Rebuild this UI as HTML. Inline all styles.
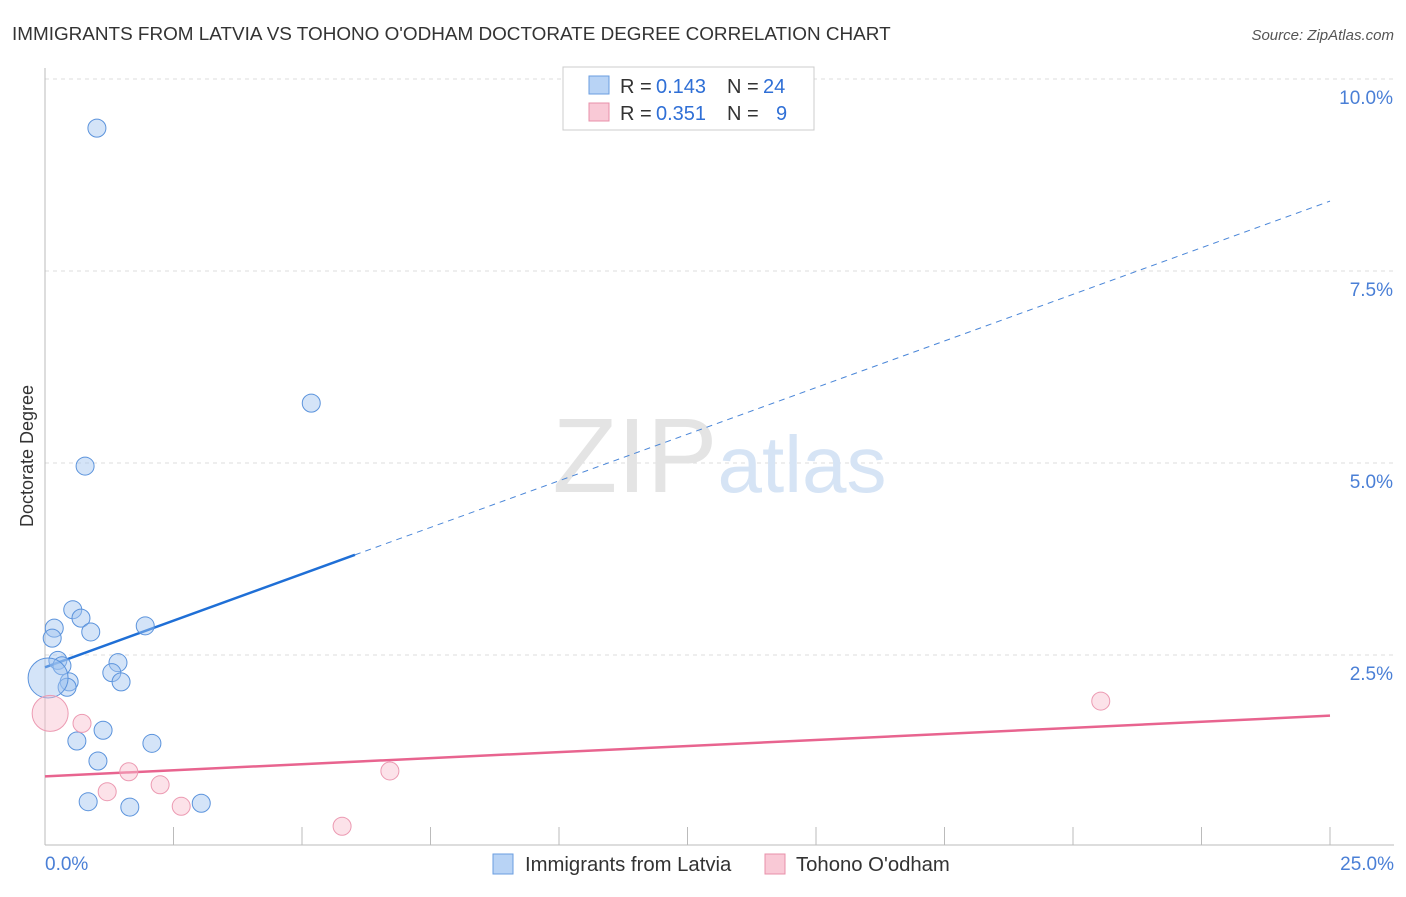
<!DOCTYPE html>
<html><head><meta charset="utf-8"><style>
body{margin:0;background:#fff;font-family:"Liberation Sans",sans-serif;}
svg text{font-family:"Liberation Sans",sans-serif;}
</style></head><body>
<svg id="chart" width="1406" height="892">
<text x="12" y="40" font-size="18.9" fill="#333">IMMIGRANTS FROM LATVIA VS TOHONO O'ODHAM DOCTORATE DEGREE CORRELATION CHART</text>
<text x="1394" y="40" font-size="15" fill="#555" text-anchor="end" font-style="italic">Source: ZipAtlas.com</text>
<text x="0" y="0" transform="translate(33,456) rotate(-90)" font-size="18" fill="#333" text-anchor="middle">Doctorate Degree</text>
<g id="grid"></g><g id="axes"></g>
<text x="635" y="492" font-size="106" fill="#e4e4e4" font-family="Liberation Serif" text-anchor="middle">ZIP</text>
<text x="802" y="492" font-size="80" fill="#d6e4f5" text-anchor="middle">atlas</text>
<g id="lines"></g><g id="points"></g>
<g>
<rect x="563" y="67" width="251" height="63" fill="#fff" stroke="#ccc"/>
<rect x="589" y="76" width="20" height="18" fill="#b8d3f5" stroke="#6a9ee0"/>
<text x="620" y="93" font-size="20" fill="#333">R =</text>
<text x="656" y="93" font-size="20" fill="#2f6fd6">0.143</text>
<text x="727" y="93" font-size="20" fill="#333">N =</text>
<text x="763" y="93" font-size="20" fill="#2f6fd6">24</text>
<rect x="589" y="103" width="20" height="18" fill="#f9c9d6" stroke="#e890aa"/>
<text x="620" y="120" font-size="20" fill="#333">R =</text>
<text x="656" y="120" font-size="20" fill="#2f6fd6">0.351</text>
<text x="727" y="120" font-size="20" fill="#333">N =</text>
<text x="776" y="120" font-size="20" fill="#2f6fd6">9</text>
</g>
<g>
<rect x="493" y="854" width="20" height="20" fill="#b8d3f5" stroke="#6a9ee0"/>
<text x="525" y="871" font-size="20.3" fill="#333">Immigrants from Latvia</text>
<rect x="765" y="854" width="20" height="20" fill="#f9c9d6" stroke="#e890aa"/>
<text x="796" y="871" font-size="20.3" fill="#333">Tohono O'odham</text>
</g>
</svg>
<script>
const xTicks=[0,2.5,5,7.5,10,12.5,15,17.5,20,22.5,25];
const yTicks=[2.5,5,7.5,10];
const yTickLabels=["2.5%","5.0%","7.5%","10.0%"];
const blueX=[1.01,5.18,0.78,0.54,0.70,0.89,0.18,0.14,1.95,0.25,0.33,1.42,1.30,1.48,0.47,0.43,0.06,1.13,0.62,2.08,1.03,0.84,1.65,3.04];
const blueY=[9.36,5.78,4.96,3.09,2.98,2.80,2.85,2.72,2.88,2.43,2.36,2.40,2.27,2.15,2.15,2.08,2.20,1.52,1.38,1.35,1.12,0.59,0.52,0.57];
const blueR=[9,9,9,9,9,9,9,9,9,9,9,9,9,9,9,9,20,9,9,9,9,9,9,9];
const pinkX=[0.10,0.72,1.63,1.21,2.24,2.65,5.78,6.71,20.54];
const pinkY=[1.74,1.61,0.98,0.72,0.81,0.53,0.27,0.99,1.90];
const pinkR=[18,9,9,9,9,9,9,9,9];
const blueTrend=[2.34,8.41]; const blueSolidEnd=6.03;
const pinkTrend=[0.92,1.71];
const NS="http://www.w3.org/2000/svg";
const X=v=>45+v/25*1285, Y=v=>847-v*76.8;
function mk(tag,attrs,parent){const e=document.createElementNS(NS,tag);for(const k in attrs)e.setAttribute(k,attrs[k]);document.getElementById(parent).appendChild(e);return e;}
yTicks.forEach((t,i)=>{
 let l=mk('line',{x1:45,x2:1394,y1:Y(t),y2:Y(t),stroke:'#ddd','stroke-dasharray':'4,4'},'grid');
 
 
 let tx=mk('text',{x:1393,y:Y(t)+25,'font-size':19,fill:'#4a7fd6','text-anchor':'end'},'grid');tx.textContent=yTickLabels[i];
 
 
});
let ax=mk('line',{x1:45,x2:45,y1:68,y2:845,stroke:'#bbb'},'axes');


let bx=mk('line',{x1:45,x2:1394,y1:845,y2:845,stroke:'#bbb'},'axes');


xTicks.forEach(t=>{let l=mk('line',{x1:X(t),x2:X(t),y1:827,y2:845,stroke:'#bbb'},'axes');
 
 });
let a=mk('text',{x:45,y:870,'font-size':19,fill:'#4a7fd6'},'axes');a.textContent='0.0%';


let b=mk('text',{x:1394,y:870,'font-size':19,fill:'#4a7fd6','text-anchor':'end'},'axes');b.textContent='25.0%';


const bAt=v=>blueTrend[0]+(blueTrend[1]-blueTrend[0])*v/25;
let s=mk('line',{x1:X(0),y1:Y(bAt(0)),x2:X(blueSolidEnd),y2:Y(bAt(blueSolidEnd)),stroke:'#1f6fd6','stroke-width':2.5},'lines');


let d=mk('line',{x1:X(blueSolidEnd),y1:Y(bAt(blueSolidEnd)),x2:X(25),y2:Y(bAt(25)),stroke:'#4a86d8','stroke-width':1,'stroke-dasharray':'6,5'},'lines');


let p=mk('line',{x1:X(0),y1:Y(pinkTrend[0]),x2:X(25),y2:Y(pinkTrend[1]),stroke:'#e8648f','stroke-width':2.5},'lines');


blueX.forEach((v,i)=>{let c=mk('circle',{cx:X(v),cy:Y(blueY[i]),r:blueR[i],fill:'rgba(160,196,240,0.45)',stroke:'#5b93dc','stroke-width':1},'points');
 
 });
pinkX.forEach((v,i)=>{let c=mk('circle',{cx:X(v),cy:Y(pinkY[i]),r:pinkR[i],fill:'rgba(249,190,206,0.45)',stroke:'#ec9ab2','stroke-width':1},'points');
 
 });
</script>
</body></html>
